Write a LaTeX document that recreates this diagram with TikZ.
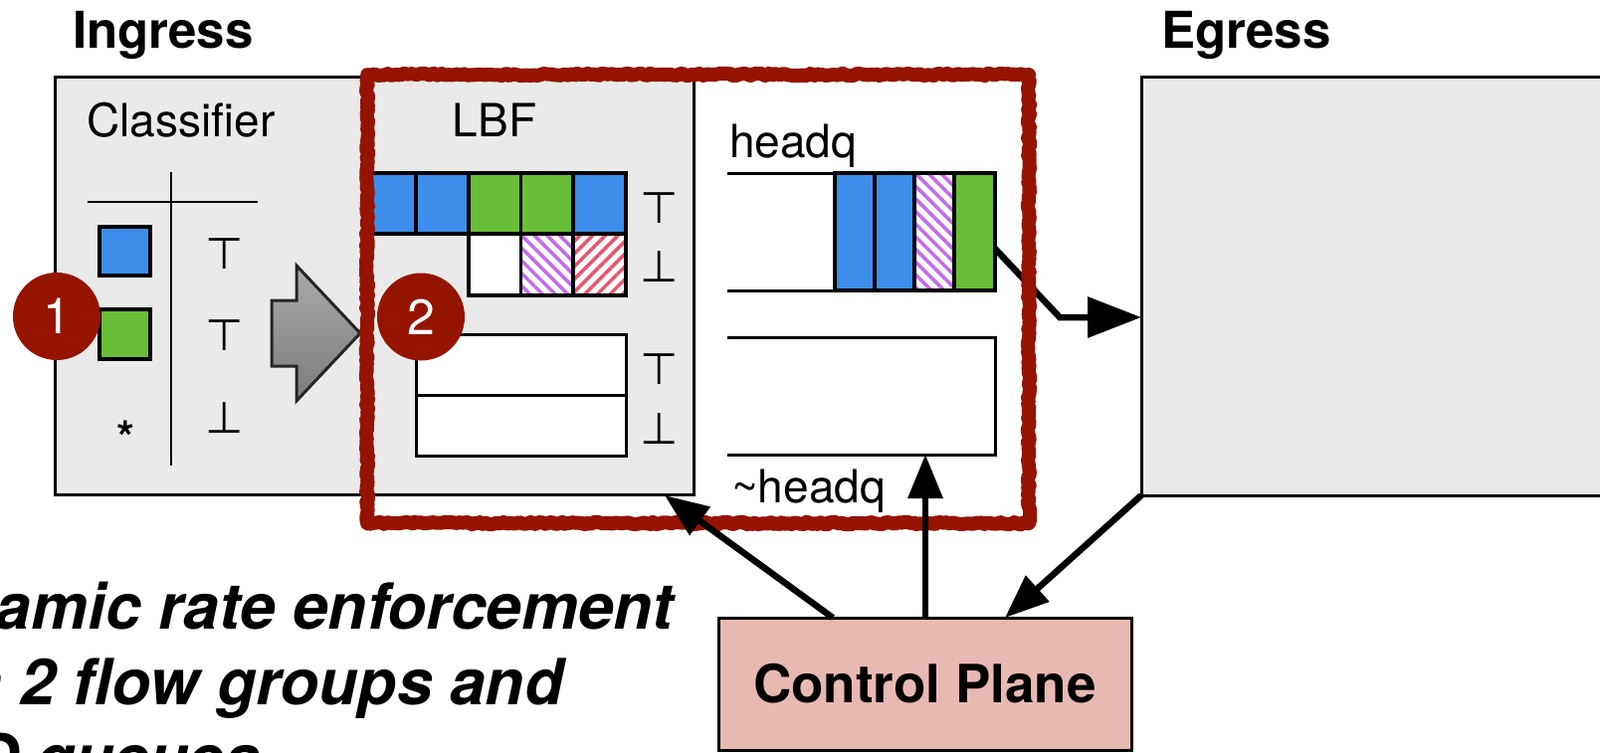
\documentclass[tikz,border=0pt]{standalone}
\usepackage{fontspec}
\setmainfont{TeX Gyre Heros}
\newfontfamily\symfont{DejaVu Sans}
\usetikzlibrary{arrows.meta,patterns.meta,decorations.pathmorphing}
\definecolor{inbox}{HTML}{EAEAEA}
\definecolor{pktblue}{HTML}{3D8EEA}
\definecolor{pktgreen}{HTML}{6ABD37}
\definecolor{flagred}{HTML}{951400}
\definecolor{cpfill}{HTML}{E8B9B3}
\definecolor{hatchpurple}{HTML}{C56BEB}
\definecolor{hatchred}{HTML}{E8566E}
\definecolor{arrtop}{HTML}{AAAAAA}
\definecolor{arrbot}{HTML}{7C7C7C}

\begin{document}
\begin{tikzpicture}[x=1pt,y=-1pt,>={Triangle[length=44pt,width=34pt]}]
\tikzstyle{every node}=[inner sep=0,outer sep=0]
\tikzstyle{box}=[draw,line width=3pt,fill=inbox]
\tikzstyle{cell}=[draw,line width=3.5pt]
\tikzstyle{badge}=[circle,fill=flagred,text=white,minimum size=88pt,font=\fontsize{50}{54}\selectfont]
\tikzstyle{sym}=[font=\symfont\fontsize{44}{50}\selectfont]
\tikzstyle{lbl}=[font=\fontsize{46}{52}\selectfont]
\tikzstyle{title}=[anchor=base west,font=\fontsize{51}{60}\selectfont\bfseries]
\tikzstyle{note}=[anchor=base west,font=\fontsize{64}{76}\selectfont\bfseries\itshape]
\tikzstyle{link}=[line width=6.5pt]
\tikzstyle{purplehatch}=[pattern={Lines[angle=-45,distance=9pt,line width=3.5pt]},pattern color=hatchpurple]
\tikzstyle{redhatch}=[pattern={Lines[angle=45,distance=9pt,line width=3.5pt]},pattern color=hatchred]
\tikzstyle{rough}=[flagred,line join=round,decorate,decoration={random steps,segment length=3pt,amplitude=1.2pt}]

\useasboundingbox (0,0) rectangle (1608,756);
\fill[white] (0,0) rectangle (1608,756);
\clip (0,0) rectangle (1608,756);

% switch boxes
\node[box,minimum width=642pt,minimum height=420pt] (ingress) at (376,287) {};
\node[box,minimum width=480pt,minimum height=421pt] (egress) at (1387,287.5) {};
\node[box,fill=cpfill,minimum width=415pt,minimum height=133pt,font=\fontsize{53}{60}\selectfont\bfseries] (cp) at (929.5,687.5) {Control Plane};
\node[title] (ingt) at (73,48) {Ingress};
\node[title] (egt) at (1167,48) {Egress};

% classifier
\node[lbl,anchor=base] (cls) at (182,137) {Classifier};
\draw[line width=2.5pt] (88,203) -- (259,203);
\draw[line width=2.5pt] (172,173) -- (172,468);
\filldraw[cell,fill=pktblue] (100,228) rectangle (151,277);
\filldraw[cell,fill=pktgreen] (100,311) rectangle (151,361);
\node[font=\fontsize{46}{50}\selectfont\bfseries] (star) at (126,440) {*};
\node[sym] (ct1) at (226,255.5) {⊤};
\node[sym] (ct2) at (226,337.5) {⊤};
\node[sym] (cf1) at (226,420) {⊥};

\shadedraw[top color=arrtop,bottom color=arrbot,draw=black!85,line width=3pt] (273,302) -- (298,302) -- (298,267) -- (362,335) -- (298,403) -- (298,368) -- (273,368) -- cycle;

% LBF
\node[lbl,anchor=base] (lbf) at (497,137) {LBF};
\filldraw[cell,fill=pktblue] (366,174) rectangle (418,235);
\filldraw[cell,fill=pktblue] (418,174) rectangle (471,235);
\filldraw[cell,fill=pktgreen] (471,174) rectangle (523.5,235);
\filldraw[cell,fill=pktgreen] (523.5,174) rectangle (576,235);
\filldraw[cell,fill=pktblue] (576,174) rectangle (629,235);
\filldraw[cell,fill=white] (471,235) rectangle (523.5,297);
\filldraw[cell,fill=white] (523.5,235) rectangle (576,297);
\fill[purplehatch] (523.5,235) rectangle (576,297);
\draw[cell] (523.5,235) rectangle (576,297);
\filldraw[cell,fill=white] (576,235) rectangle (629,297);
\fill[redhatch] (576,235) rectangle (629,297);
\draw[cell] (576,235) rectangle (629,297);
\filldraw[cell,fill=white,line width=3pt] (418,336) rectangle (629,397);
\filldraw[cell,fill=white,line width=3pt] (418,397) rectangle (629,458);
\node[sym] (lt1) at (663,209) {⊤};
\node[sym] (lf1) at (663,268) {⊥};
\node[sym] (lt2) at (663,371) {⊤};
\node[sym] (lf2) at (663,431) {⊥};

\node[badge] (b1) at (57,318) {1};
\node[badge] (b2) at (423,318.5) {2};

% queues
\node[lbl,anchor=base west] (hqt) at (733,158) {headq};
\node[minimum width=269pt,minimum height=118pt] (hq) at (865.5,233) {};
\draw[line width=3pt] (hq.north west) -- (hq.north east);
\draw[line width=3pt] (hq.south west) -- (hq.south east);
\filldraw[cell,fill=pktblue] (839,174) rectangle (879,292);
\filldraw[cell,fill=pktblue] (879,174) rectangle (919,292);
\filldraw[cell,fill=white] (919,174) rectangle (959,292);
\fill[purplehatch] (919,174) rectangle (959,292);
\draw[cell] (919,174) rectangle (959,292);
\filldraw[cell,fill=pktgreen] (959,174) rectangle (1000,292);
\node[minimum width=269pt,minimum height=118pt] (nhq) at (865.5,398) {};
\draw[line width=3pt] (nhq.north west) -- (nhq.north east) -- (nhq.south east) -- (nhq.south west);
\node[lbl,anchor=base west] (nhqt) at (735,505) {\textasciitilde headq};

\coordinate (hqout) at (1000,250);
\coordinate (bend) at (1065,319);
\draw[link,-{Triangle[length=54pt,width=40pt]}] (hqout) -- (bend) -- (egress.west |- bend);

% highlight
\draw[rough,line width=14pt] (369,75) rectangle (1034,526);

% control plane links
\coordinate (cpa) at (837,621);
\coordinate (cpb) at (930,621);
\coordinate (cpc) at (1010,621);
\coordinate (inbot) at (668,498);
\draw[link,->] (cpa) -- (inbot);
\draw[link,->] (cpb) -- (cpb |- nhq.south);
\draw[link,->] (egress.south west) -- (cpc);

\node[note] (n1) at (-125,632) {Dynamic rate enforcement};
\node[note] (n2) at (-125,708) {with 2 flow groups and};
\node[note] (n3) at (-125,784) {FIFO queues};
\end{tikzpicture}
\end{document}
